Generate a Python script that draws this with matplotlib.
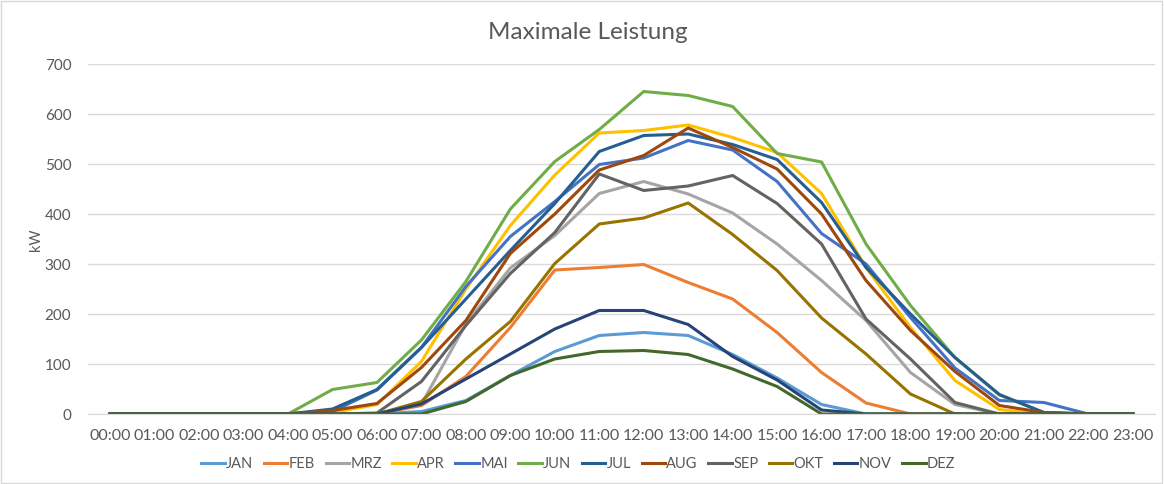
import matplotlib.pyplot as plt
from matplotlib.patches import Rectangle

plt.rcParams['font.family'] = ['Lato', 'DejaVu Sans']

hours = ['%02d:00' % h for h in range(24)]
months = ['JAN', 'FEB', 'MRZ', 'APR', 'MAI', 'JUN', 'JUL', 'AUG', 'SEP', 'OKT', 'NOV', 'DEZ']
colors = ['#5B9BD5', '#ED7D31', '#A5A5A5', '#FFC000', '#4472C4', '#70AD47',
          '#255E91', '#9E480E', '#636363', '#997300', '#264478', '#43682B']

jan = [0, 0, 0, 0, 0, 0, 0, 5, 27, 77, 125, 157, 163, 157, 119, 72, 19, 0, 0, 0, 0, 0, 0, 0]
feb = [0, 0, 0, 0, 0, 0, 0, 17, 75, 173, 288, 293, 299, 263, 230, 163, 83, 22, 0, 0, 0, 0, 0, 0]
mrz = [0, 0, 0, 0, 0, 0, 0, 20, 180, 292, 357, 441, 465, 440, 402, 340, 267, 187, 83, 19, 0, 0, 0, 0]
apr = [0, 0, 0, 0, 0, 3, 19, 105, 250, 377, 478, 562, 567, 578, 553, 523, 441, 293, 173, 67, 9, 0, 0, 0]
mai = [0, 0, 0, 0, 0, 5, 48, 133, 255, 355, 425, 499, 512, 547, 528, 465, 361, 300, 193, 92, 27, 23, 0, 0]
jun = [0, 0, 0, 0, 0, 49, 63, 148, 265, 410, 505, 569, 645, 637, 615, 521, 504, 340, 217, 113, 38, 3, 0, 0]
jul = [0, 0, 0, 0, 0, 10, 49, 133, 230, 327, 421, 525, 557, 560, 539, 509, 423, 293, 200, 113, 39, 3, 0, 0]
aug = [0, 0, 0, 0, 0, 7, 21, 93, 187, 321, 400, 488, 517, 572, 533, 490, 400, 267, 167, 85, 17, 3, 0, 0]
sep = [0, 0, 0, 0, 0, 0, 2, 65, 177, 281, 363, 480, 447, 456, 477, 421, 340, 190, 110, 23, 0, 0, 0, 0]
okt = [0, 0, 0, 0, 0, 0, 0, 25, 110, 185, 301, 380, 392, 422, 359, 287, 192, 120, 40, 0, 0, 0, 0, 0]
nov = [0, 0, 0, 0, 0, 0, 0, 20, 70, 120, 170, 207, 207, 179, 115, 68, 8, 0, 0, 0, 0, 0, 0, 0]
dez = [0, 0, 0, 0, 0, 0, 0, 0, 25, 77, 110, 125, 127, 119, 90, 55, 0, 0, 0, 0, 0, 0, 0, 0]

series = [jan, feb, mrz, apr, mai, jun, jul, aug, sep, okt, nov, dez]

fig = plt.figure(figsize=(11.64, 4.84), dpi=100)
ax = fig.add_axes([88 / 1164, 70 / 484, 1067 / 1164, 350 / 484])

x = list(range(24))
for name, vals, c in zip(months, series, colors):
    ax.plot(x, vals, color=c, linewidth=2.2, label=name, solid_joinstyle='round')

ax.set_xlim(-0.5, 23.5)
ax.set_ylim(0, 700)
ax.set_yticks(range(0, 701, 100))
ax.set_xticks(x)
ax.set_xticklabels(hours)
ax.grid(axis='y', color='#D9D9D9', linewidth=1)
ax.set_axisbelow(True)
for s in ['top', 'right', 'left']:
    ax.spines[s].set_visible(False)
ax.spines['bottom'].set_color('#D9D9D9')
ax.tick_params(length=0, colors='#595959')
ax.tick_params(axis='x', pad=11, labelsize=11.5)
ax.tick_params(axis='y', pad=12, labelsize=11)

fig.text(0.505, 0.932, 'Maximale Leistung', ha='center', va='center', fontsize=17.5, color='#595959')
fig.text(0.031, 0.504, 'kW', ha='center', va='center', rotation=90, fontsize=10.5, color='#595959')

fig.legend(loc='center', bbox_to_anchor=(0.497, 0.041), ncol=12, frameon=False,
           fontsize=10.5, handlelength=1.6, handletextpad=0.1, columnspacing=0.72,
           labelcolor='#595959')

fig.patches.append(Rectangle((0.001, 0.002), 0.997, 0.995, transform=fig.transFigure,
                             fill=False, edgecolor='#D9D9D9', linewidth=1))

fig.savefig('out.png', dpi=100)
